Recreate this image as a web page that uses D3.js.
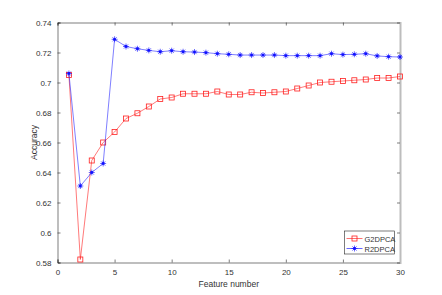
<!DOCTYPE html>
<html>
<head>
<meta charset="utf-8">
<script src="https://cdn.jsdelivr.net/npm/d3@7"></script>
<style>
  body { margin: 0; background: #fff; }
  text { font-family: "Liberation Sans", Arial, sans-serif; }
</style>
</head>
<body>
<div class="canvas"></div>
<script>
// data
const features = d3.range(1, 31);
const g2dpca = [0.705, 0.582, 0.648, 0.660, 0.667, 0.676, 0.6795, 0.684, 0.689, 0.690,
                0.6925, 0.6925, 0.6925, 0.694, 0.692, 0.692, 0.6935, 0.693, 0.6935, 0.694,
                0.696, 0.698, 0.700, 0.7005, 0.701, 0.7015, 0.702, 0.703, 0.703, 0.704];
const r2dpca = [0.706, 0.631, 0.640, 0.646, 0.7288, 0.724, 0.7225, 0.7214, 0.7205, 0.7212,
                0.7205, 0.7203, 0.7199, 0.7192, 0.7188, 0.7183, 0.7183, 0.7183, 0.7183, 0.7179,
                0.7179, 0.7179, 0.7179, 0.7192, 0.7186, 0.7188, 0.7192, 0.7177, 0.7172, 0.717];
const xTicks = [0, 5, 10, 15, 20, 25, 30];
const yTicks = [0.58, 0.6, 0.62, 0.64, 0.66, 0.68, 0.7, 0.72, 0.74];
const seriesNames = ['G2DPCA', 'R2DPCA'];

const width = 442, height = 295;
const margin = {top: 22.5, right: 42, bottom: 32.5, left: 57.5};
const graphWidth = width - margin.left - margin.right;
const graphHeight = height - margin.top - margin.bottom;

const svg = d3.select('.canvas')
    .append('svg')
    .attr('width', width)
    .attr('height', height);

const graph = svg.append('g')
    .attr('transform', `translate(${margin.left}, ${margin.top})`);

// scales
const x = d3.scaleLinear().domain([0, 30]).range([0, graphWidth]);
const y = d3.scaleLinear().domain([0.58, 0.74]).range([graphHeight, 0]);

const axisColor = '#262626';

// axes (ticks point inward like matlab)
const xAxis = d3.axisBottom(x).tickValues(xTicks).tickSize(-3).tickPadding(7).tickFormat(d3.format('d'));
const yAxis = d3.axisLeft(y).tickValues(yTicks).tickSize(-3).tickPadding(6).tickFormat(d => d3.format('')(+d.toFixed(2)));
const xTop = d3.axisTop(x).tickValues(xTicks).tickSize(-3).tickFormat('');
const yRight = d3.axisRight(y).tickValues(yTicks).tickSize(-3).tickFormat('');

const gx = graph.append('g').attr('transform', `translate(0, ${graphHeight})`).call(xAxis);
const gy = graph.append('g').call(yAxis);
const gxt = graph.append('g').call(xTop);
const gyr = graph.append('g').attr('transform', `translate(${graphWidth}, 0)`).call(yRight);

[gx, gy, gxt, gyr].forEach(g => {
    g.selectAll('path').attr('stroke', axisColor).attr('stroke-width', 0.6);
    g.selectAll('line').attr('stroke', axisColor).attr('stroke-width', 0.6);
    g.selectAll('text').attr('fill', '#333').attr('font-size', 8);
});
gyr.select('path').attr('stroke', '#bdbdbd').attr('stroke-width', 2);

// axis labels
svg.append('text')
    .attr('x', margin.left + graphWidth / 2)
    .attr('y', 287)
    .attr('text-anchor', 'middle')
    .attr('font-size', 8.5)
    .attr('fill', '#333')
    .text('Feature number');

svg.append('text')
    .attr('transform', `translate(37, ${margin.top + graphHeight / 2}) rotate(-90)`)
    .attr('text-anchor', 'middle')
    .attr('font-size', 8.5)
    .attr('fill', '#333')
    .text('Accuracy');

const line = d3.line().x((d, i) => x(features[i])).y(d => y(d));

const red = '#ff2020', blue = '#1010ff';

// G2DPCA
graph.append('path')
    .datum(g2dpca)
    .attr('fill', 'none')
    .attr('stroke', red)
    .attr('stroke-opacity', 0.75)
    .attr('stroke-width', 0.8)
    .attr('d', line);

graph.selectAll('.sq')
    .data(g2dpca)
    .enter().append('rect')
    .attr('class', 'sq')
    .attr('x', (d, i) => x(features[i]) - 2.5)
    .attr('y', d => y(d) - 2.5)
    .attr('width', 5)
    .attr('height', 5)
    .attr('fill', 'none')
    .attr('stroke', red)
    .attr('stroke-width', 0.8);

// R2DPCA
graph.append('path')
    .datum(r2dpca)
    .attr('fill', 'none')
    .attr('stroke', blue)
    .attr('stroke-opacity', 0.6)
    .attr('stroke-width', 0.9)
    .attr('d', line);

function star(g, cx, cy) {
    const r = 3;
    g.append('path')
        .attr('d', `M${cx - r},${cy}L${cx + r},${cy}M${cx},${cy - r}L${cx},${cy + r}` +
                   `M${cx - r * 0.7},${cy - r * 0.7}L${cx + r * 0.7},${cy + r * 0.7}` +
                   `M${cx - r * 0.7},${cy + r * 0.7}L${cx + r * 0.7},${cy - r * 0.7}`)
        .attr('stroke', blue)
        .attr('stroke-opacity', 0.7)
        .attr('stroke-width', 0.9);
    g.append('circle').attr('cx', cx).attr('cy', cy).attr('r', 1.4).attr('fill', blue);
}

const stars = graph.append('g');
r2dpca.forEach((d, i) => star(stars, x(features[i]), y(d)));

// legend
const lg = svg.append('g').attr('transform', 'translate(344.5, 231)');
lg.append('rect')
    .attr('width', 50)
    .attr('height', 23)
    .attr('fill', '#fff')
    .attr('stroke', axisColor)
    .attr('stroke-width', 0.6);

seriesNames.forEach((name, i) => {
    const ly = 7.5 + i * 10;
    const col = i === 0 ? red : blue;
    lg.append('line')
        .attr('x1', 2).attr('x2', 18).attr('y1', ly).attr('y2', ly)
        .attr('stroke', col).attr('stroke-width', 0.8).attr('stroke-opacity', 0.8);
    if (i === 0) {
        lg.append('rect').attr('x', 7.5).attr('y', ly - 2.5).attr('width', 5).attr('height', 5)
            .attr('fill', 'none').attr('stroke', red).attr('stroke-width', 0.8);
    } else {
        star(lg, 10, ly);
    }
    lg.append('text')
        .attr('x', 20)
        .attr('y', ly + 3)
        .attr('font-size', 7.5)
        .attr('fill', '#333')
        .text(name);
});
</script>
</body>
</html>
